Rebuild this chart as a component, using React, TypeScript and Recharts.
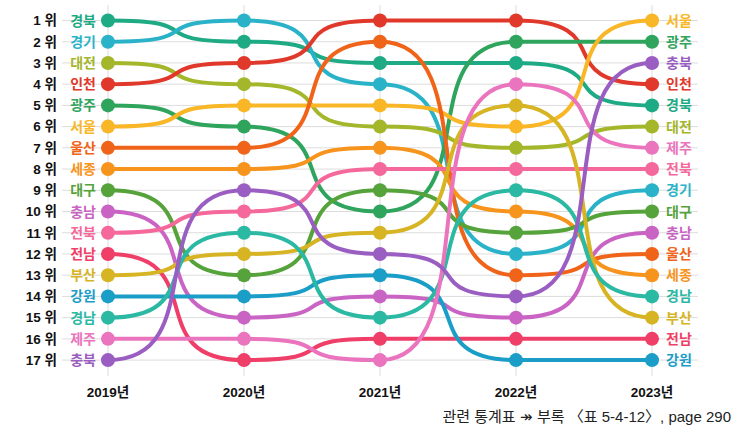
import React from 'react';
import { LineChart, Line, XAxis, YAxis, CartesianGrid, LabelList } from 'recharts';

const years = [2019, 2020, 2021, 2022, 2023];
const rankTicks = [1, 2, 3, 4, 5, 6, 7, 8, 9, 10, 11, 12, 13, 14, 15, 16, 17];

const regions = ['경북', '경기', '대전', '인천', '광주', '서울', '울산', '세종', '대구', '충남', '전북', '전남', '부산', '강원', '경남', '제주', '충북'];
const regionColors = ['#1eaa84', '#2ab3c8', '#a4b62a', '#e0392b', '#2fa45c', '#f9b626', '#f0641a', '#f7941e', '#55a33a', '#c964c4', '#f5689b', '#ef3e67', '#d6b424', '#1a9dc6', '#2bb9a3', '#ea74bd', '#9a5ec2'];

// region names in rank order (1위 → 17위) for each year
const order2019 = ['경북', '경기', '대전', '인천', '광주', '서울', '울산', '세종', '대구', '충남', '전북', '전남', '부산', '강원', '경남', '제주', '충북'];
const order2020 = ['경기', '경북', '인천', '대전', '서울', '광주', '울산', '세종', '충북', '전북', '경남', '부산', '대구', '강원', '충남', '제주', '전남'];
const order2021 = ['인천', '울산', '경북', '경기', '서울', '대전', '세종', '전북', '대구', '광주', '부산', '충북', '강원', '충남', '경남', '전남', '제주'];
const order2022 = ['인천', '광주', '경북', '제주', '부산', '서울', '대전', '전북', '경남', '세종', '대구', '경기', '울산', '충북', '충남', '전남', '강원'];
const order2023 = ['서울', '광주', '충북', '인천', '경북', '대전', '제주', '전북', '경기', '대구', '충남', '울산', '세종', '경남', '부산', '전남', '강원'];

const orders = [order2019, order2020, order2021, order2022, order2023];

const data = years.map((year, i) => {
  const row: Record<string, number> = { year };
  orders[i].forEach((name, idx) => {
    row[name] = idx + 1;
  });
  return row;
});

const FONT = "'Liberation Sans', 'Noto Sans CJK KR', sans-serif";

// sigmoid-like bump curve (horizontal tangents at every point)
const sigmoidCurve: any = (context: any) => {
  let x0 = 0;
  let y0 = 0;
  let pt = 0;
  const k = 0.78;
  return {
    areaStart() {},
    areaEnd() {},
    lineStart() {
      pt = 0;
    },
    lineEnd() {},
    point(x: number, y: number) {
      x = +x;
      y = +y;
      if (pt === 0) {
        context.moveTo(x, y);
        pt = 1;
      } else {
        const dx = x - x0;
        context.bezierCurveTo(x0 + k * dx, y0, x - k * dx, y, x, y);
      }
      x0 = x;
      y0 = y;
    },
  };
};

const makeNameLabel = (name: string, color: string) => (props: any) => {
  const x = props.x ?? props.viewBox?.x;
  const y = props.y ?? props.viewBox?.y;
  const index = props.index;
  if (index === 0) {
    return (
      <text x={x - 12} y={y} dy="0.36em" textAnchor="end" fill={color} fontWeight="bold" fontSize={14} fontFamily={FONT}>
        {name}
      </text>
    );
  }
  if (index === years.length - 1) {
    return (
      <text x={x + 14} y={y} dy="0.36em" textAnchor="start" fill={color} fontWeight="bold" fontSize={14} fontFamily={FONT}>
        {name}
      </text>
    );
  }
  return null;
};

export default function App() {
  return (
    <div style={{ position: 'absolute', left: 0, top: 0, width: 734, height: 431, background: '#fff' }}>
      <LineChart width={734} height={431} data={data} margin={{ top: 5, right: 36, bottom: 25, left: 0 }}>
        <CartesianGrid stroke="#dcdcdc" strokeWidth={1} syncWithTicks />
        <XAxis
          dataKey="year"
          type="number"
          domain={[2018.662, 2023.338]}
          ticks={years}
          tickFormatter={(v: number) => `${v}년`}
          axisLine={false}
          tickLine={false}
          tickSize={0}
          tickMargin={11}
          height={30}
          tick={{ fill: '#111', fontSize: 13.5, fontWeight: 'bold', fontFamily: FONT }}
        />
        <YAxis
          type="number"
          domain={[0.27, 17.75]}
          reversed
          ticks={rankTicks}
          interval={0}
          tickFormatter={(v: number) => `${v} 위`}
          axisLine={false}
          tickLine={false}
          tickSize={0}
          tickMargin={5}
          width={62}
          tick={{ fill: '#111', fontSize: 13.5, fontWeight: 'bold', fontFamily: FONT }}
        />
        {regions.map((name, i) => (
          <Line
            key={name}
            dataKey={name}
            type={sigmoidCurve}
            stroke={regionColors[i]}
            strokeWidth={4}
            dot={{ r: 7, fill: regionColors[i], stroke: regionColors[i], strokeWidth: 0 }}
            activeDot={false}
            isAnimationActive={false}
          >
            <LabelList dataKey={name} content={makeNameLabel(name, regionColors[i])} />
          </Line>
        ))}
      </LineChart>
      <div
        style={{
          position: 'absolute',
          left: 0,
          top: 407,
          width: 731,
          textAlign: 'right',
          fontSize: 15,
          lineHeight: '20px',
          color: '#222',
          fontFamily: FONT,
        }}
      >
        관련 통계표 ↠ 부록 〈표 5-4-12〉, page 290
      </div>
    </div>
  );
}
